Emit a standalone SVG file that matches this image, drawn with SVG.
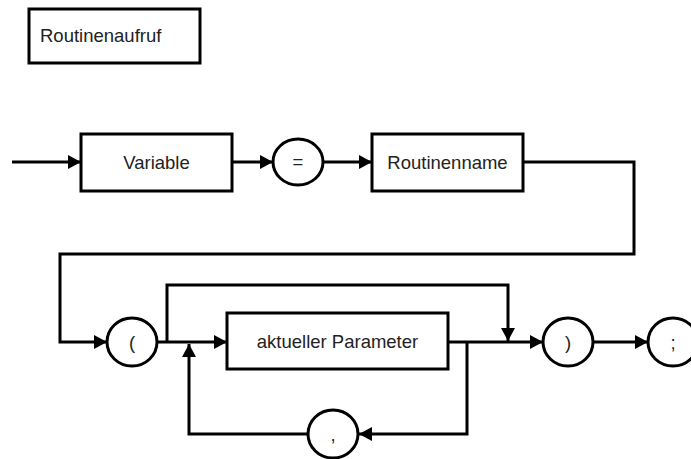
<svg xmlns="http://www.w3.org/2000/svg" width="691" height="459" viewBox="0 0 691 459">
<defs>
<marker id="ah" markerWidth="13" markerHeight="14" refX="13" refY="7" orient="auto" markerUnits="userSpaceOnUse">
<path d="M0,0 L13,7 L0,14 Z" fill="#000"/>
</marker>
<style>
.box{fill:#fff;stroke:#000;stroke-width:3}
.term{fill:#fff;stroke:#000;stroke-width:3}
.lbl{font-family:"Liberation Sans",Arial,sans-serif;font-size:18.5px;fill:#222;text-anchor:middle}
.ln{fill:none;stroke:#000;stroke-width:3}
.arr{fill:none;stroke:#000;stroke-width:3;marker-end:url(#ah)}
</style>
</defs>
<rect width="691" height="459" fill="#fff"/>
<g id="title">
<rect class="box" x="29" y="9" width="171" height="54"/>
<text class="lbl" x="40" y="42" style="text-anchor:start">Routinenaufruf</text>
</g>
<g id="connectors">
<path class="arr" d="M12,162 L81,162"/>
<path class="arr" d="M232,162 L273,162"/>
<path class="arr" d="M323,162 L372,162"/>
<path class="arr" d="M523,162 L634,162 L634,254 L60,254 L60,342 L107,342"/>
<path class="arr" d="M157,342 L227,342"/>
<path class="arr" d="M167,342 L167,285 L508,285 L508,341"/>
<path class="arr" d="M448,342 L543,342"/>
<path class="arr" d="M593,342 L648,342"/>
<path class="arr" d="M467,342 L467,434 L359,434"/>
<path class="arr" d="M308,434 L189,434 L189,344"/>
</g>
<g id="variable">
<rect class="box" x="81" y="134" width="151" height="57"/>
<text class="lbl" x="156.5" y="169">Variable</text>
</g>
<g id="equals">
<ellipse class="term" cx="298" cy="162" rx="25" ry="23"/>
<text class="lbl" x="298" y="168">=</text>
</g>
<g id="routinenname">
<rect class="box" x="372" y="134" width="151" height="57"/>
<text class="lbl" x="447.5" y="169">Routinenname</text>
</g>
<g id="lparen">
<ellipse class="term" cx="132" cy="342" rx="25" ry="24"/>
<text class="lbl" x="132" y="349">(</text>
</g>
<g id="parameter">
<rect class="box" x="227" y="313" width="221" height="56"/>
<text class="lbl" x="337.5" y="348">aktueller Parameter</text>
</g>
<g id="rparen">
<ellipse class="term" cx="568" cy="342" rx="25" ry="24"/>
<text class="lbl" x="568" y="349">)</text>
</g>
<g id="semicolon">
<ellipse class="term" cx="673" cy="342" rx="25" ry="24"/>
<text class="lbl" x="673" y="349">;</text>
</g>
<g id="comma">
<ellipse class="term" cx="333" cy="434" rx="25" ry="24"/>
<text class="lbl" x="333" y="441">,</text>
</g>
</svg>
